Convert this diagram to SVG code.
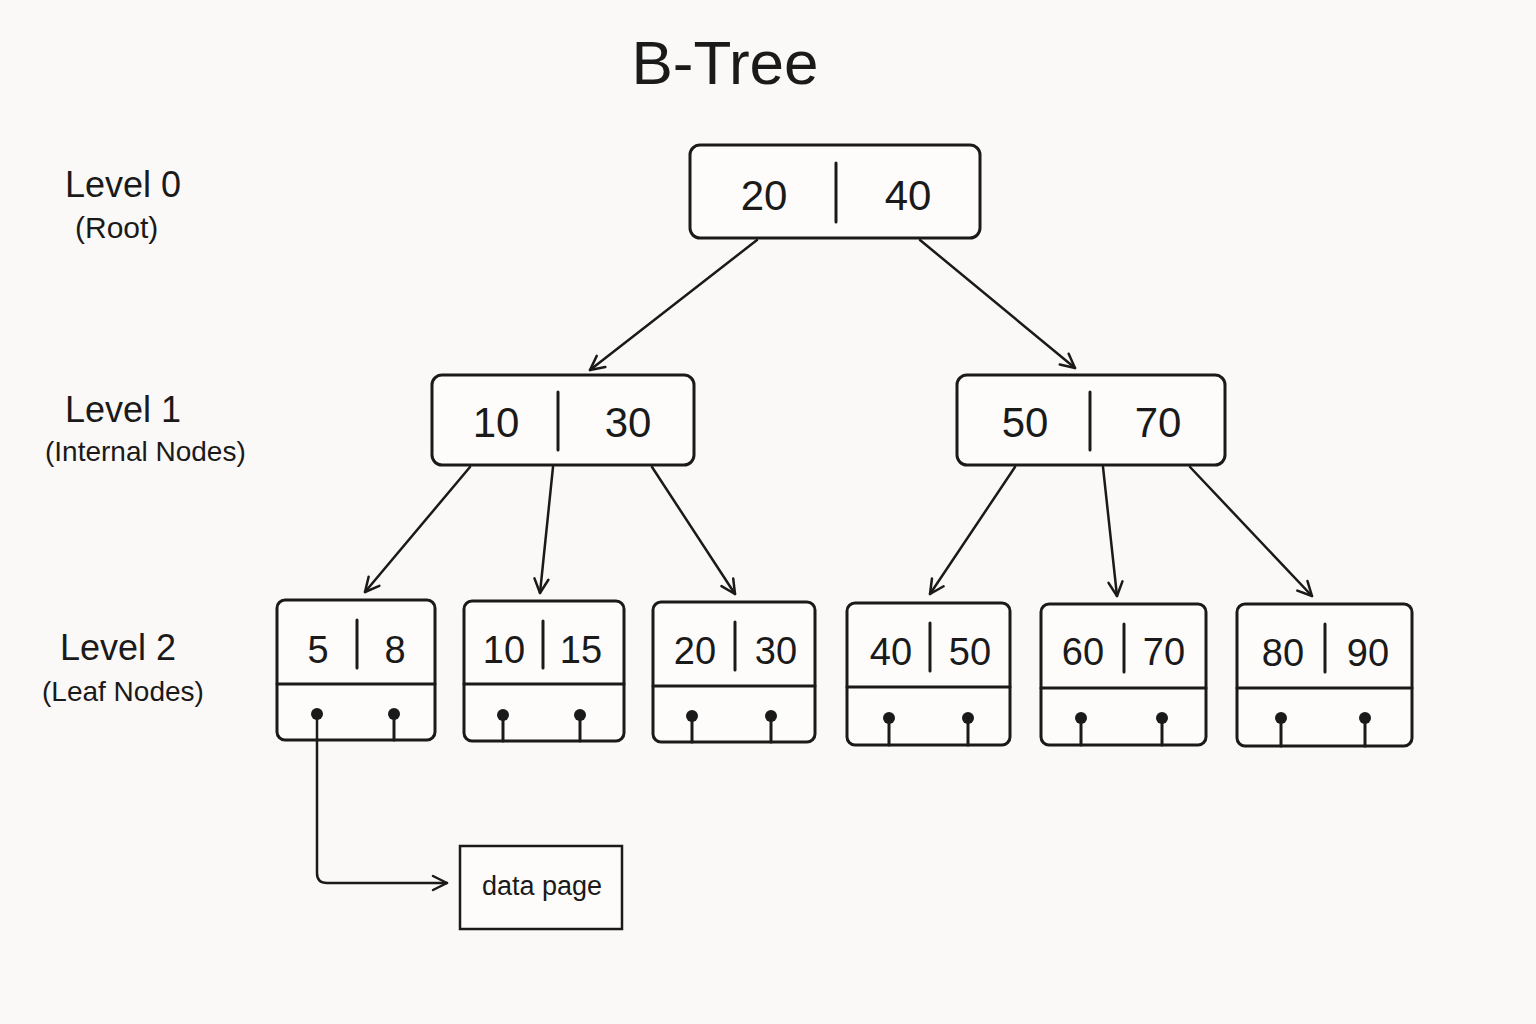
<svg xmlns="http://www.w3.org/2000/svg" width="1536" height="1024" viewBox="0 0 1536 1024">
<defs>
<marker id="ah" viewBox="0 0 20 20" refX="17" refY="10" markerWidth="20" markerHeight="20" markerUnits="userSpaceOnUse" orient="auto">
<path d="M3,3 L17,10 L3,17" fill="none" stroke="#1a1a1a" stroke-width="2.5" stroke-linecap="round" stroke-linejoin="round"/>
</marker>
</defs>
<style>
.box{fill:#fdfcfa;stroke:#1a1a1a;stroke-width:3}
.ln{stroke:#1a1a1a;stroke-width:3;fill:none;stroke-linecap:round}
.t{font-family:"Liberation Sans",Arial,sans-serif;fill:#1a1a1a;text-anchor:middle}
.k{font-size:42px}
.lk{font-size:38px}
.lab{font-family:"Liberation Sans",Arial,sans-serif;fill:#1a1a1a}
.dot{fill:#1a1a1a}
.c{stroke:#1a1a1a;stroke-width:2.5;fill:none;stroke-linecap:round;marker-end:url(#ah)}
</style>
<rect width="1536" height="1024" fill="#faf9f7"/>
<text class="t" x="725" y="84" font-size="62">B-Tree</text>
<text class="lab" x="65" y="197" font-size="36">Level 0</text>
<text class="lab" x="75" y="238" font-size="30">(Root)</text>
<text class="lab" x="65" y="422" font-size="36">Level 1</text>
<text class="lab" x="45" y="461" font-size="28">(Internal Nodes)</text>
<text class="lab" x="60" y="660" font-size="36">Level 2</text>
<text class="lab" x="42" y="701" font-size="28">(Leaf Nodes)</text>

<g id="root"><rect class="box" x="690" y="145" width="290" height="93" rx="10"/><line class="ln" x1="836" y1="163" x2="836" y2="222"/><text class="t k" x="764" y="210">20</text><text class="t k" x="908" y="210">40</text></g>
<g id="n10_30"><rect class="box" x="432" y="375" width="262" height="90" rx="10"/><line class="ln" x1="558" y1="392" x2="558" y2="450"/><text class="t k" x="496" y="437">10</text><text class="t k" x="628" y="437">30</text></g>
<g id="n50_70"><rect class="box" x="957" y="375" width="268" height="90" rx="10"/><line class="ln" x1="1090" y1="392" x2="1090" y2="450"/><text class="t k" x="1025" y="437">50</text><text class="t k" x="1158" y="437">70</text></g>

<g id="leaf1"><rect class="box" x="277" y="600" width="158" height="140" rx="8"/><line class="ln" x1="277" y1="684" x2="435" y2="684"/><line class="ln" x1="357" y1="620" x2="357" y2="668"/><text class="t lk" x="318" y="663">5</text><text class="t lk" x="395" y="663">8</text><circle class="dot" cx="317" cy="714" r="6"/><circle class="dot" cx="394" cy="714" r="6"/><line class="ln" x1="394" y1="714" x2="394" y2="740"/></g>
<g id="leaf2"><rect class="box" x="464" y="601" width="160" height="140" rx="8"/><line class="ln" x1="464" y1="684" x2="624" y2="684"/><line class="ln" x1="543" y1="621" x2="543" y2="668"/><text class="t lk" x="504" y="663">10</text><text class="t lk" x="581" y="663">15</text><circle class="dot" cx="503" cy="715" r="6"/><circle class="dot" cx="580" cy="715" r="6"/><line class="ln" x1="503" y1="715" x2="503" y2="741"/><line class="ln" x1="580" y1="715" x2="580" y2="741"/></g>
<g id="leaf3"><rect class="box" x="653" y="602" width="162" height="140" rx="8"/><line class="ln" x1="653" y1="686" x2="815" y2="686"/><line class="ln" x1="735" y1="622" x2="735" y2="670"/><text class="t lk" x="695" y="664">20</text><text class="t lk" x="776" y="664">30</text><circle class="dot" cx="692" cy="716" r="6"/><circle class="dot" cx="771" cy="716" r="6"/><line class="ln" x1="692" y1="716" x2="692" y2="742"/><line class="ln" x1="771" y1="716" x2="771" y2="742"/></g>
<g id="leaf4"><rect class="box" x="847" y="603" width="163" height="142" rx="8"/><line class="ln" x1="847" y1="687" x2="1010" y2="687"/><line class="ln" x1="930" y1="623" x2="930" y2="671"/><text class="t lk" x="891" y="665">40</text><text class="t lk" x="970" y="665">50</text><circle class="dot" cx="889" cy="718" r="6"/><circle class="dot" cx="968" cy="718" r="6"/><line class="ln" x1="889" y1="718" x2="889" y2="745"/><line class="ln" x1="968" y1="718" x2="968" y2="745"/></g>
<g id="leaf5"><rect class="box" x="1041" y="604" width="165" height="141" rx="8"/><line class="ln" x1="1041" y1="688" x2="1206" y2="688"/><line class="ln" x1="1124" y1="624" x2="1124" y2="672"/><text class="t lk" x="1083" y="665">60</text><text class="t lk" x="1164" y="665">70</text><circle class="dot" cx="1081" cy="718" r="6"/><circle class="dot" cx="1162" cy="718" r="6"/><line class="ln" x1="1081" y1="718" x2="1081" y2="745"/><line class="ln" x1="1162" y1="718" x2="1162" y2="745"/></g>
<g id="leaf6"><rect class="box" x="1237" y="604" width="175" height="142" rx="8"/><line class="ln" x1="1237" y1="688" x2="1412" y2="688"/><line class="ln" x1="1325" y1="624" x2="1325" y2="672"/><text class="t lk" x="1283" y="666">80</text><text class="t lk" x="1368" y="666">90</text><circle class="dot" cx="1281" cy="718" r="6"/><circle class="dot" cx="1365" cy="718" r="6"/><line class="ln" x1="1281" y1="718" x2="1281" y2="746"/><line class="ln" x1="1365" y1="718" x2="1365" y2="746"/></g>
<g id="datapage"><rect x="460" y="846" width="162" height="83" fill="#fdfcfa" stroke="#1a1a1a" stroke-width="2.5"/><text class="t" x="542" y="895" font-size="27">data page</text></g>

<g id="connectors">
<path class="c" d="M757,240 L590,370"/>
<path class="c" d="M920,240 L1075,368"/>
<path class="c" d="M470,467 L365,592"/>
<path class="c" d="M553,467 L540,593"/>
<path class="c" d="M652,467 L735,594"/>
<path class="c" d="M1015,467 L930,594"/>
<path class="c" d="M1103,467 L1117,596"/>
<path class="c" d="M1190,467 L1312,596"/>
<path class="c" d="M317,714 L317,873 Q317,883 327,883 L447,883"/>
</g>
</svg>
